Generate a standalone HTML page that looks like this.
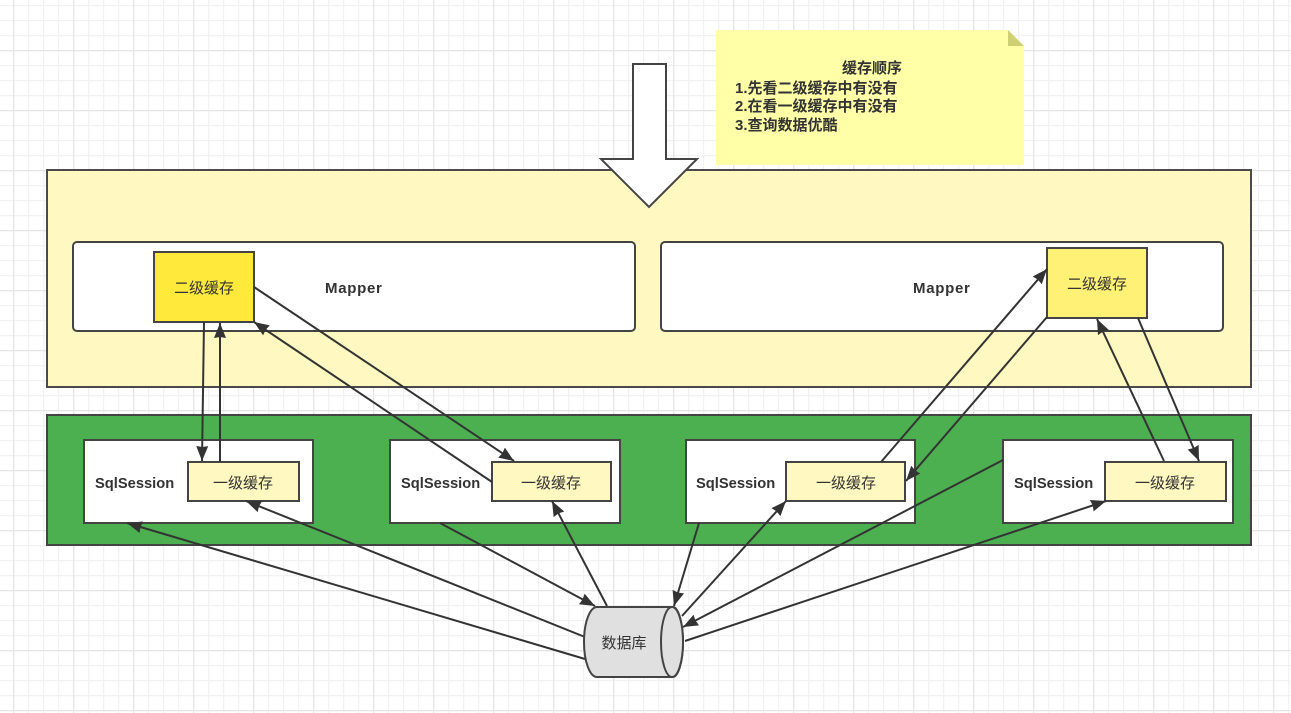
<!DOCTYPE html>
<html>
<head>
<meta charset="utf-8">
<style>
html,body{margin:0;padding:0;background:#fff;width:1291px;height:713px;overflow:hidden}
svg{display:block;filter:blur(.3px)}
text{font-family:"Liberation Sans","Noto Sans CJK SC",sans-serif;fill:#333;font-size:15px}
.b{font-weight:bold}
</style>
</head>
<body>
<svg width="1291" height="713" viewBox="0 0 1291 713" xmlns="http://www.w3.org/2000/svg">
<defs>
<pattern id="minor" width="15" height="15" patternUnits="userSpaceOnUse" x="13" y="5">
<path d="M0.5 0V15M0 0.5H15" stroke="#f2f2f2" stroke-width="1.5" fill="none"/>
</pattern>
<pattern id="major" width="60" height="60" patternUnits="userSpaceOnUse" x="13" y="50">
<path d="M0.5 0V60M0 0.5H60" stroke="#e6e6e6" stroke-width="1.5" fill="none"/>
</pattern>
<marker id="a" markerUnits="userSpaceOnUse" markerWidth="17" markerHeight="14" refX="15" refY="6.5" orient="auto">
<path d="M0 0.5L15 6.5L0 12.5L1 6.5Z" fill="#333"/>
</marker>
</defs>
<rect width="1291" height="713" fill="#fff"/>
<rect width="1291" height="713" fill="url(#minor)"/>
<rect width="1291" height="713" fill="url(#major)"/>

<rect x="47" y="170" width="1204" height="217" fill="#FFF8C1" stroke="#4a4a4a" stroke-width="2"/>
<rect x="47" y="415" width="1204" height="130" fill="#4CAF50" stroke="#444" stroke-width="2"/>

<rect x="73" y="242" width="562" height="89" rx="4" fill="#fff" stroke="#444" stroke-width="2"/>
<rect x="661" y="242" width="562" height="89" rx="4" fill="#fff" stroke="#444" stroke-width="2"/>
<text class="b" x="325" y="293" style="letter-spacing:.7px">Mapper</text>
<text class="b" x="913" y="293" style="letter-spacing:.7px">Mapper</text>

<rect x="154" y="252" width="100" height="70" fill="#FFE93B" stroke="#444" stroke-width="2"/>
<text x="204" y="293" text-anchor="middle">二级缓存</text>
<rect x="1047" y="248" width="100" height="70" fill="#FFF176" stroke="#444" stroke-width="2"/>
<text x="1097" y="289" text-anchor="middle">二级缓存</text>

<g fill="#fff" stroke="#444" stroke-width="2">
<rect x="84" y="440" width="229" height="83"/>
<rect x="390" y="440" width="230" height="83"/>
<rect x="686" y="440" width="229" height="83"/>
<rect x="1003" y="440" width="230" height="83"/>
</g>
<g fill="#FFF8C1" stroke="#444" stroke-width="2">
<rect x="188" y="462" width="111" height="39"/>
<rect x="492" y="462" width="119" height="39"/>
<rect x="786" y="462" width="119" height="39"/>
<rect x="1105" y="462" width="121" height="39"/>
</g>
<g>
<text class="b" x="95" y="488" style="font-size:14.7px">SqlSession</text>
<text class="b" x="401" y="488" style="font-size:14.7px">SqlSession</text>
<text class="b" x="696" y="488" style="font-size:14.7px">SqlSession</text>
<text class="b" x="1014" y="488" style="font-size:14.7px">SqlSession</text>
</g>
<g text-anchor="middle">
<text x="243" y="488">一级缓存</text>
<text x="551" y="488">一级缓存</text>
<text x="846" y="488">一级缓存</text>
<text x="1165" y="488">一级缓存</text>
</g>

<path d="M716 30H1008L1024 46V165H716Z" fill="#FFFFA8"/>
<path d="M1008 30L1024 46H1008Z" fill="#CFCF73"/>
<g>
<text class="b" x="842" y="73">缓存顺序</text>
<text class="b" x="735" y="93">1.先看二级缓存中有没有</text>
<text class="b" x="735" y="111">2.在看一级缓存中有没有</text>
<text class="b" x="735" y="130">3.查询数据优酷</text>
</g>

<path d="M633 64H666V159H697L649 207L601 159H633Z" fill="#fff" stroke="#444" stroke-width="2"/>

<g fill="none" stroke="#333" stroke-width="2" marker-end="url(#a)">
<path d="M204 322L202 461"/>
<path d="M220 462V323"/>
<path d="M254 287L514 461"/>
<path d="M492 482L254 322"/>
<path d="M881 462L1047 269"/>
<path d="M1047 317L906 481"/>
<path d="M1164 461L1097 319"/>
<path d="M1138 318L1199 461"/>
<path d="M585 659L127 523"/>
<path d="M585 637L246 501"/>
<path d="M440 523L595 606"/>
<path d="M607 606L552 501"/>
<path d="M699 523L674 606"/>
<path d="M682 616L786 501"/>
<path d="M1003 460L683 627"/>
<path d="M685 641L1106 501"/>
</g>

<path d="M597 607H673C678 607 683 622 683 642C683 662 678 677 673 677H597C590 677 584 662 584 642C584 622 590 607 597 607Z" fill="#E0E0E0" stroke="#444" stroke-width="2"/>
<ellipse cx="672" cy="642" rx="11" ry="35" fill="#E0E0E0" stroke="#444" stroke-width="2"/>
<text x="624" y="648" text-anchor="middle">数据库</text>
</svg>
</body>
</html>
